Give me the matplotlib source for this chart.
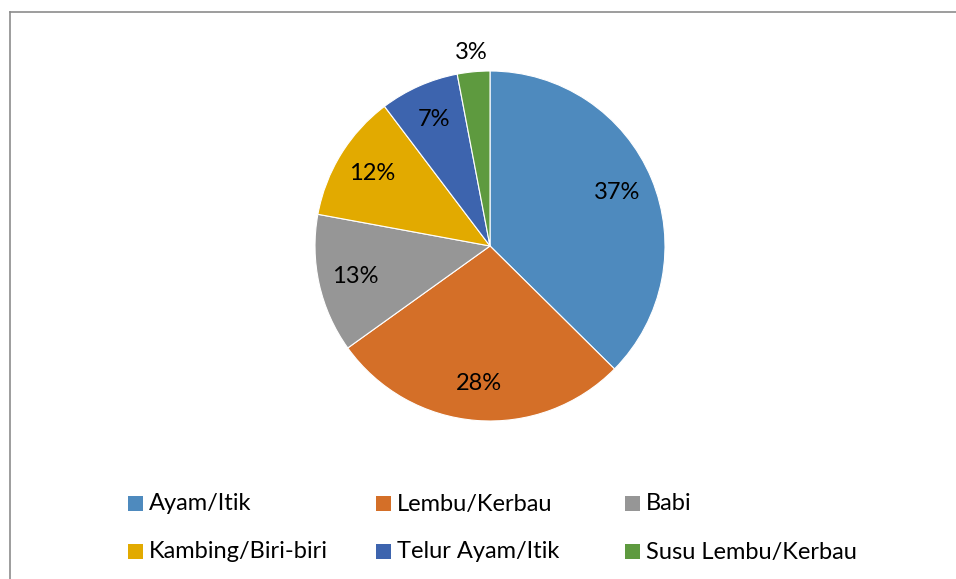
import matplotlib
matplotlib.use("Agg")
import matplotlib.pyplot as plt
from matplotlib.patches import Rectangle
from matplotlib.lines import Line2D

categories = ["Ayam/Itik", "Lembu/Kerbau", "Babi", "Kambing/Biri-biri", "Telur Ayam/Itik", "Susu Lembu/Kerbau"]
values = [37.4, 27.7, 12.8, 11.8, 7.3, 3.0]
colors = ["#4E8ABE", "#D46F28", "#969696", "#E2AA00", "#3D64AE", "#5E9A3F"]

plt.rcParams['font.family'] = ['Lato', 'DejaVu Sans']

W, H = 956, 579
fig = plt.figure(figsize=(W / 100, H / 100), dpi=100)
fig.patch.set_facecolor("white")

# chart border (continues off right and bottom)
fig.add_artist(Line2D([10 / W, 10 / W], [0, 1 - 12 / H], transform=fig.transFigure, color="#8C8C8C", lw=1.2))
fig.add_artist(Line2D([10 / W, 1], [1 - 12 / H, 1 - 12 / H], transform=fig.transFigure, color="#8C8C8C", lw=1.2))

cx, cy, r = 490, 246, 175
ax = fig.add_axes([(cx - r) / W, (H - cy - r) / H, 2 * r / W, 2 * r / H])
pd_ = 0.79
wedges, texts, autotexts = ax.pie(
    values, colors=colors, startangle=90, counterclock=False,
    autopct=lambda p: f"{p:.0f}%", pctdistance=pd_,
    wedgeprops=dict(edgecolor="white", linewidth=0.8),
    textprops=dict(fontsize=17, color="black"),
)
# the smallest slice has its label outside
px, py = autotexts[-1].get_position()
autotexts[-1].set_position((px / pd_ * 1.11, py / pd_ * 1.11))
ax.set_xlim(-1, 1)
ax.set_ylim(-1, 1)
ax.set_aspect("equal")
ax.axis("off")

# legend, row-major 3 columns
col_x = [128, 376, 625]
row_y = [503, 551]
for i, (lab, c) in enumerate(zip(categories, colors)):
    x = col_x[i % 3]
    y = row_y[i // 3]
    fig.add_artist(Rectangle((x / W, 1 - (y + 8) / H), 15 / W, 15 / H,
                             transform=fig.transFigure, facecolor=c, edgecolor="none"))
    fig.text((x + 21) / W, 1 - (y + 1) / H, lab, fontsize=17, color="black",
             va="center", ha="left")

fig.savefig("out.png", dpi=100)
